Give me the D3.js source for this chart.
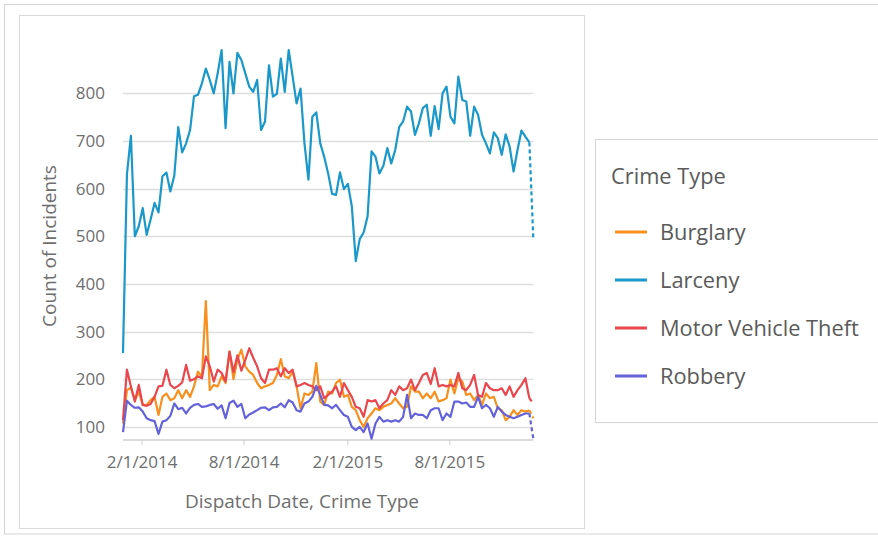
<!DOCTYPE html>
<html>
<head>
<meta charset="utf-8">
<script src="https://cdn.jsdelivr.net/npm/d3@7"></script>
<style>
  html, body { margin: 0; padding: 0; background: #fff; }
  svg { display: block; font-family: "Open Sans", sans-serif; }
</style>
</head>
<body>
<svg id="chart" width="878" height="538"></svg>
<script>
// ---- data ----
const startDate = "2013-12-30";   // first weekly bucket
const weeks = 105;
const categories = ["Burglary", "Larceny", "Motor Vehicle Theft", "Robbery"];
const colors = ["#f7901e", "#1a98c9", "#e8474d", "#6462d8"];
const yTicks = [100, 200, 300, 400, 500, 600, 700, 800];
const xTickLabels = ["2/1/2014", "8/1/2014", "2/1/2015", "8/1/2015"];

const burglary = [
  107,177,182,156,174,146,146,156,163,125,
  163,170,156,160,177,160,177,163,185,216,
  205,364,177,188,185,206,192,258,200,241,
  262,227,216,209,192,181,185,188,192,209,
  242,206,202,216,185,139,170,167,174,234,
  153,146,174,170,192,199,163,167,142,135,
  114,100,118,128,139,135,142,146,149,160,
  149,139,142,185,174,174,160,170,160,174,
  153,156,160,199,170,202,195,167,170,156,
  167,146,170,160,163,139,135,114,121,135,
  125,135,132,135,118
];
const larceny = [
  255,630,711,500,521,559,503,535,570,550,
  626,634,594,627,729,676,695,723,794,797,
  821,852,828,800,842,891,727,866,800,885,
  870,842,814,803,828,723,741,859,793,799,
  873,803,891,835,779,810,695,619,751,760,
  695,667,632,589,587,634,599,610,563,448,
  494,508,542,678,667,632,648,685,653,681,
  729,741,772,762,713,737,769,776,711,773,
  725,800,814,751,737,835,786,783,711,772,
  755,713,695,674,718,706,671,714,688,636,
  681,722,709,697,496
];
const motorVehicleTheft = [
  114,220,185,153,188,146,144,148,163,185,
  186,220,188,181,186,193,230,197,200,206,
  202,248,227,195,220,213,195,258,215,250,
  218,240,265,245,227,202,192,220,220,223,
  206,223,213,220,185,188,192,188,185,177,
  185,160,167,174,185,163,192,177,163,142,
  139,121,156,153,156,139,149,156,177,167,
  185,177,181,199,177,192,209,213,190,223,
  185,188,185,188,185,213,181,177,188,209,
  167,163,192,181,177,177,181,167,185,163,
  177,188,202,160,149
];
const robbery = [
  89,155,146,140,141,132,118,114,112,85,
  111,114,123,149,137,140,128,140,146,148,
  142,143,146,148,138,145,118,150,155,142,
  148,118,126,130,135,140,141,135,141,142,
  149,141,156,151,135,132,149,153,163,186,
  167,146,145,139,146,135,125,121,100,93,
  100,89,107,75,107,121,111,114,111,114,
  111,121,167,118,128,125,125,118,135,139,
  139,114,128,121,153,153,149,151,142,142,
  163,139,146,139,121,142,132,125,121,118,
  121,125,128,128,75
];
const seriesValues = [burglary, larceny, motorVehicleTheft, robbery];

// ---- build ----
const parse = d3.utcParse("%Y-%m-%d");
const parseTick = d3.utcParse("%m/%d/%Y");
const t0 = parse(startDate);
const dates = d3.range(weeks).map(i => d3.utcDay.offset(t0, 7 * i));
const tickDates = xTickLabels.map(s => parseTick(s));

const svg = d3.select("#chart");
const textCol = "#6e6e6e";

// frames
svg.append("rect").attr("x", 4.5).attr("y", 4.5).attr("width", 880).attr("height", 529.5)
  .attr("fill", "none").attr("stroke", "#d4d4d4");
svg.append("rect").attr("x", 19.5).attr("y", 15.5).attr("width", 565).attr("height", 513)
  .attr("fill", "#fff").attr("stroke", "#d9d9d9");

const plotL = 123, plotR = 533.3;
const x = d3.scaleUtc().domain([dates[0], dates[dates.length - 1]]).range([plotL, plotR]);
const y = d3.scaleLinear().domain([73, 900]).range([439.7, 45.7]);

// grid
svg.append("g").selectAll("line").data(yTicks).join("line")
  .attr("x1", plotL).attr("x2", plotR)
  .attr("y1", d => Math.round(y(d)) + 0.5).attr("y2", d => Math.round(y(d)) + 0.5)
  .attr("stroke", "#dedede").attr("stroke-width", 1.5);

// y axis labels
const yAxis = d3.axisLeft(y).tickValues(yTicks).tickSize(0).tickPadding(0);
const gy = svg.append("g").attr("transform", `translate(105,0)`).call(yAxis);
gy.select(".domain").remove();
gy.selectAll("text").attr("fill", textCol).attr("font-size", 17).attr("font-family", "Open Sans");

// x axis
const xAxis = d3.axisBottom(x).tickValues(tickDates).tickSize(5).tickPadding(10.5)
  .tickFormat((d, i) => xTickLabels[i]);
const gx = svg.append("g").attr("transform", `translate(0,440)`).call(xAxis);
gx.select(".domain").attr("stroke", "#cfcfcf").attr("stroke-width", 1.5)
  .attr("d", `M${plotL},0H${plotR}`);
gx.selectAll(".tick line").attr("stroke", "#cfcfcf");
gx.selectAll("text").attr("fill", textCol).attr("font-size", 17).attr("font-family", "Open Sans");

// axis titles
svg.append("text").attr("transform", "translate(56,246) rotate(-90)")
  .attr("text-anchor", "middle").attr("fill", textCol).attr("font-size", 19)
  .text("Count of Incidents");
svg.append("text").attr("x", 302).attr("y", 507.5)
  .attr("text-anchor", "middle").attr("fill", textCol).attr("font-size", 19)
  .text("Dispatch Date, Crime Type");

// lines
const line = d3.line().x(d => x(d.date)).y(d => y(d.value));
categories.forEach((c, k) => {
  const pts = seriesValues[k].map((v, i) => ({ date: dates[i], value: v }));
  const n = pts.length;
  svg.append("path").datum(pts.slice(0, n - 1)).attr("d", line)
    .attr("fill", "none").attr("stroke", colors[k]).attr("stroke-width", 2.2)
    .attr("stroke-linejoin", "round");
  svg.append("path").datum(pts.slice(n - 2)).attr("d", line)
    .attr("fill", "none").attr("stroke", colors[k]).attr("stroke-width", 2.2)
    .attr("stroke-dasharray", "4,3");
});

// legend
svg.append("rect").attr("x", 595.5).attr("y", 139.5).attr("width", 290).attr("height", 283)
  .attr("fill", "#fff").attr("stroke", "#d4d4d4");
svg.append("text").attr("x", 611).attr("y", 184).attr("fill", "#5a5a5a").attr("font-size", 21.8)
  .text("Crime Type");
const lg = svg.append("g").selectAll("g").data(categories).join("g")
  .attr("transform", (d, i) => `translate(0,${232 + i * 48})`);
lg.append("line").attr("x1", 615).attr("x2", 647).attr("stroke-width", 3)
  .attr("stroke", (d, i) => colors[i]);
lg.append("text").attr("x", 660).attr("y", 7.5).attr("fill", "#5a5a5a").attr("font-size", 21.8)
  .text(d => d);
</script>
</body>
</html>
